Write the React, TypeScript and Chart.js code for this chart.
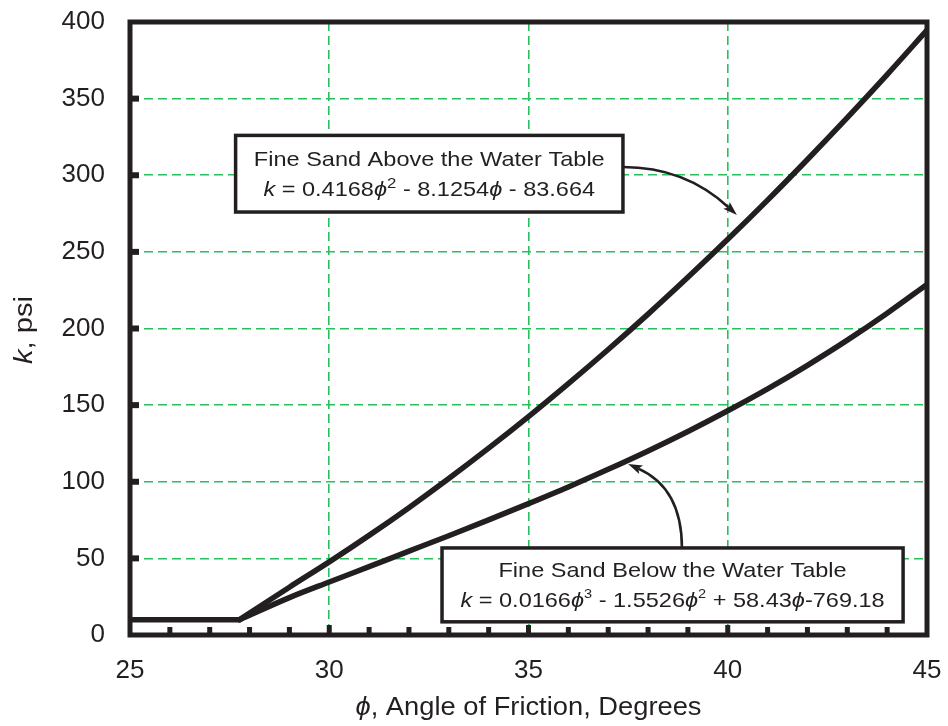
import React, { useEffect, useRef } from 'react';
import { Chart, registerables } from 'chart.js';

Chart.register(...registerables);

// ---- data ----
// shared flat portion at low friction angles
const phiFlat = [25, 27.75];
const kFlat = [10, 10];

// rising portion (starts at the kink)
const phiRise = [27.75, 29, 30, 31, 32, 33, 34, 35, 36, 37, 38, 39, 40, 41, 42, 43, 44, 45];
const kAbove = [10, 31.2, 47.7, 65.0, 83.1, 102.1, 121.9, 142.5, 164.0, 186.3, 209.4, 233.4, 258.2, 283.8, 310.3, 337.6, 365.7, 394.7];
const kBelow = [10, 24.4, 34.6, 44.6, 54.7, 64.8, 75.1, 85.7, 96.6, 108.1, 120.1, 132.8, 146.3, 160.6, 176.0, 192.4, 210.0, 228.8];

const xTickValues = [25, 30, 35, 40, 45];
const yTickValues = [0, 50, 100, 150, 200, 250, 300, 350, 400];
const xMinorTicks = [26, 27, 28, 29, 30, 31, 32, 33, 34, 35, 36, 37, 38, 39, 40, 41, 42, 43, 44];
const yMinorTicks = [50, 100, 150, 200, 250, 300, 350];

const labelAbove = 'Fine Sand Above the Water Table';
const labelBelow = 'Fine Sand Below the Water Table';
const xTitle = 'Angle of Friction, Degrees';
const yTitle = 'psi';

const INK = '#231f20';
const GREEN = '#27c05a';
const FONT = '"Liberation Sans", Arial, Helvetica, sans-serif';

type Run = { t: string; i?: boolean; sup?: number };

function runSize(r: Run, size: number) {
  return r.sup ? Math.round(size * r.sup) : size;
}

function measureRuns(ctx: CanvasRenderingContext2D, runs: Run[], size: number) {
  let w = 0;
  for (const r of runs) {
    ctx.font = `${r.i ? 'italic ' : ''}${runSize(r, size)}px ${FONT}`;
    w += ctx.measureText(r.t).width;
  }
  return w;
}

function drawRuns(
  ctx: CanvasRenderingContext2D,
  runs: Run[],
  cx: number,
  cy: number,
  size: number,
  scaleX: number,
  rotate = 0
) {
  ctx.save();
  ctx.translate(cx, cy);
  if (rotate) ctx.rotate(rotate);
  ctx.scale(scaleX, 1);
  const total = measureRuns(ctx, runs, size);
  let x = -total / 2;
  ctx.textBaseline = 'middle';
  ctx.textAlign = 'left';
  ctx.fillStyle = INK;
  for (const r of runs) {
    ctx.font = `${r.i ? 'italic ' : ''}${runSize(r, size)}px ${FONT}`;
    ctx.fillText(r.t, x, r.sup ? -size * 0.28 : 0);
    x += ctx.measureText(r.t).width;
  }
  ctx.restore();
}

function drawArrow(
  ctx: CanvasRenderingContext2D,
  p0: [number, number],
  c: [number, number],
  p2: [number, number]
) {
  ctx.save();
  ctx.strokeStyle = INK;
  ctx.fillStyle = INK;
  ctx.lineWidth = 2.6;
  const ang = Math.atan2(p2[1] - c[1], p2[0] - c[0]);
  const headLen = 15;
  const baseX = p2[0] - Math.cos(ang) * headLen * 0.75;
  const baseY = p2[1] - Math.sin(ang) * headLen * 0.75;
  ctx.beginPath();
  ctx.moveTo(p0[0], p0[1]);
  ctx.quadraticCurveTo(c[0], c[1], baseX, baseY);
  ctx.stroke();
  ctx.beginPath();
  ctx.moveTo(p2[0], p2[1]);
  ctx.lineTo(p2[0] - Math.cos(ang - 0.32) * headLen, p2[1] - Math.sin(ang - 0.32) * headLen);
  ctx.lineTo(baseX, baseY);
  ctx.lineTo(p2[0] - Math.cos(ang + 0.32) * headLen, p2[1] - Math.sin(ang + 0.32) * headLen);
  ctx.closePath();
  ctx.fill();
  ctx.restore();
}

const decorPlugin = {
  id: 'decor',
  afterDatasetsDraw(chart: any) {
    const ctx: CanvasRenderingContext2D = chart.ctx;
    const xs = chart.scales.x;
    const ys = chart.scales.y;
    const ca = chart.chartArea;
    const px = (v: number) => xs.getPixelForValue(v);
    const py = (v: number) => ys.getPixelForValue(v);

    ctx.save();
    // frame
    ctx.strokeStyle = INK;
    ctx.lineWidth = 5;
    ctx.strokeRect(ca.left, ca.top, ca.right - ca.left, ca.bottom - ca.top);

    // bottom inner ticks
    ctx.fillStyle = INK;
    for (const v of xMinorTicks) {
      const major = v % 5 === 0;
      const h = major ? 10 : 8;
      ctx.fillRect(px(v) - 2.5, ca.bottom - h, 5, h);
    }
    // left inner ticks
    for (const v of yMinorTicks) {
      ctx.fillRect(ca.left, py(v) - 3, 9, 6);
    }

    // annotation boxes
    const boxes = [
      {
        x0: 27.65, x1: 37.37, y0: 326, y1: 276,
        lines: [
          [{ t: labelAbove }] as Run[],
          [
            { t: 'k', i: true }, { t: ' = 0.4168' }, { t: 'ϕ', i: true }, { t: '2', sup: 0.72 },
            { t: ' - 8.1254' }, { t: 'ϕ', i: true }, { t: ' - 83.664' },
          ] as Run[],
        ],
      },
      {
        x0: 32.83, x1: 44.4, y0: 56.8, y1: 8.6,
        lines: [
          [{ t: labelBelow }] as Run[],
          [
            { t: 'k', i: true }, { t: ' = 0.0166' }, { t: 'ϕ', i: true }, { t: '3', sup: 0.62 },
            { t: ' - 1.5526' }, { t: 'ϕ', i: true }, { t: '2', sup: 0.62 },
            { t: ' + 58.43' }, { t: 'ϕ', i: true }, { t: '-769.18' },
          ] as Run[],
        ],
      },
    ];
    for (const b of boxes) {
      const l = px(b.x0), r = px(b.x1), t = py(b.y0), bt = py(b.y1);
      ctx.fillStyle = '#ffffff';
      ctx.fillRect(l, t, r - l, bt - t);
      ctx.strokeStyle = INK;
      ctx.lineWidth = 3.5;
      ctx.strokeRect(l, t, r - l, bt - t);
      const cx = (l + r) / 2;
      const h = bt - t;
      drawRuns(ctx, b.lines[0], cx, t + h * 0.32, 21, 1.12);
      drawRuns(ctx, b.lines[1], cx, t + h * 0.715, 21, 1.12);
    }

    // arrows
    drawArrow(ctx, [px(37.37), py(305.4)], [px(38.93), py(305.4)], [px(40.23), py(274)]);
    drawArrow(ctx, [px(38.85), py(56.8)], [px(38.85), py(95.9)], [px(37.5), py(111.6)]);

    // axis titles
    drawRuns(
      ctx,
      [{ t: 'ϕ', i: true }, { t: ', ' + xTitle }],
      (ca.left + ca.right) / 2,
      708,
      26,
      1.05
    );
    drawRuns(ctx, [{ t: 'k', i: true }, { t: ', ' + yTitle }], 25, 330, 26, 1.12, -Math.PI / 2);
    ctx.restore();
  },
};

const zeroPad = (scale: any) => {
  scale.paddingTop = 0;
  scale.paddingBottom = 0;
  scale.paddingLeft = 0;
  scale.paddingRight = 0;
};

const lineStyle = {
  borderColor: INK,
  borderWidth: 5.5,
  borderJoinStyle: 'round',
  borderCapStyle: 'round',
  pointRadius: 0,
  fill: false,
};

export default function App() {
  const canvasRef = useRef<HTMLCanvasElement | null>(null);

  useEffect(() => {
    const canvas = canvasRef.current;
    if (!canvas) return;
    const chart = new Chart(canvas, {
      type: 'line',
      data: {
        datasets: [
          {
            ...lineStyle,
            label: 'Flat portion',
            data: phiFlat.map((x, i) => ({ x, y: kFlat[i] })),
            tension: 0,
          },
          {
            ...lineStyle,
            label: labelAbove,
            data: phiRise.map((x, i) => ({ x, y: kAbove[i] })),
            cubicInterpolationMode: 'monotone',
          },
          {
            ...lineStyle,
            label: labelBelow,
            data: phiRise.map((x, i) => ({ x, y: kBelow[i] })),
            cubicInterpolationMode: 'monotone',
          },
        ],
      },
      options: {
        animation: false,
        responsive: false,
        maintainAspectRatio: false,
        layout: { padding: { top: 22, right: 21, left: 0, bottom: 0 } },
        plugins: {
          legend: { display: false },
          tooltip: { enabled: false },
          title: { display: false },
        },
        scales: {
          x: {
            type: 'linear',
            min: 25,
            max: 45,
            afterBuildTicks: (scale: any) => {
              scale.ticks = xTickValues.map((v) => ({ value: v }));
            },
            afterFit: (scale: any) => {
              scale.height = 91;
              zeroPad(scale);
            },
            ticks: {
              color: INK,
              font: { family: FONT, size: 26 },
              padding: 20,
              maxRotation: 0,
            },
            grid: {
              color: (c: any) =>
                c.tick && (c.tick.value === 25 || c.tick.value === 45) ? 'rgba(0,0,0,0)' : GREEN,
              lineWidth: 1.6,
              drawTicks: false,
            },
            border: { display: false, dash: [9, 5] },
          },
          y: {
            type: 'linear',
            min: 0,
            max: 400,
            afterBuildTicks: (scale: any) => {
              scale.ticks = yTickValues.map((v) => ({ value: v }));
            },
            afterFit: (scale: any) => {
              scale.width = 130;
              zeroPad(scale);
            },
            ticks: {
              color: INK,
              font: { family: FONT, size: 26 },
              padding: 25,
            },
            grid: {
              color: (c: any) =>
                c.tick && (c.tick.value === 0 || c.tick.value === 400) ? 'rgba(0,0,0,0)' : GREEN,
              lineWidth: 1.6,
              drawTicks: false,
            },
            border: { display: false, dash: [9, 5] },
          },
        },
      },
      plugins: [decorPlugin],
    } as any);
    return () => chart.destroy();
  }, []);

  return (
    <div style={{ position: 'fixed', left: 0, top: 0, width: 948, height: 726, background: '#fff' }}>
      <canvas ref={canvasRef} width={948} height={726} style={{ width: 948, height: 726 }} />
    </div>
  );
}
